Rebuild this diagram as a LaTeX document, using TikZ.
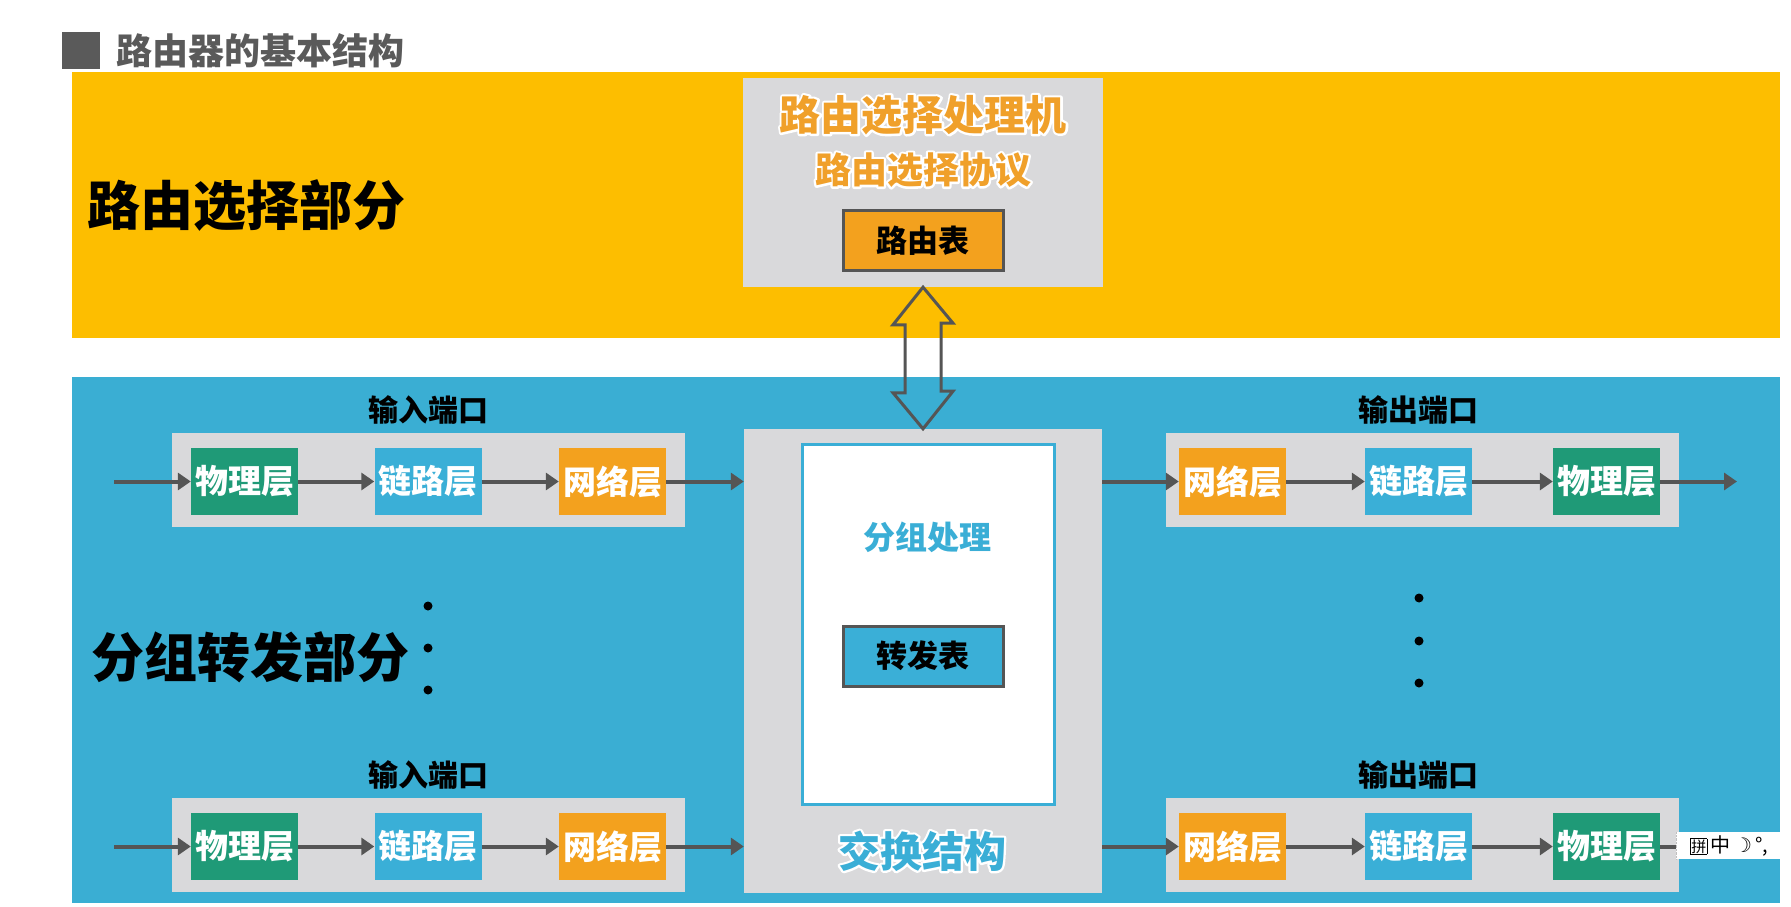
\documentclass[tikz,border=0pt]{standalone}
\usepackage{fontspec}
\setmainfont{Noto Sans CJK SC}
\newfontfamily\symfont{DejaVu Sans}
\usetikzlibrary{calc,arrows.meta}
\definecolor{ybg}{HTML}{FDBE00}
\definecolor{bbg}{HTML}{3AAED3}
\definecolor{lgray}{HTML}{D9D9DB}
\definecolor{lgreen}{HTML}{1F9A77}
\definecolor{lblue}{HTML}{3AAFD7}
\definecolor{lorange}{HTML}{F3A11E}
\definecolor{dgray}{HTML}{555555}
\definecolor{tgray}{HTML}{5A5A5A}
\definecolor{ttxt}{HTML}{F0A02A}
\definecolor{btxt}{HTML}{3AAED6}
\newcommand\glowtext[5]{%
  \node[#4,text=white] at (#2,#3) {\special{pdf:literal direct 2 Tr 4.5 w 1 j 1 1 1 RG}#5\special{pdf:literal direct 0 Tr}};
  \node[#4] (#1) at (#2,#3) {#5};}
\begin{document}
\begin{tikzpicture}[x=1pt,y=-1pt,
  layer/.style={minimum width=107pt,minimum height=67pt,inner sep=0pt,text=white,font=\fontsize{33}{33}\selectfont\bfseries},
  portbox/.style={fill=lgray,minimum width=513pt,minimum height=94pt,inner sep=0pt},
  plabel/.style={inner sep=0pt,font=\fontsize{30}{30}\selectfont\bfseries},
  biglabel/.style={inner sep=0pt,font=\fontsize{53}{53}\selectfont\bfseries},
  flow/.style={draw=dgray,line width=4pt,-{Triangle[length=13pt,width=17pt]}},
  tbl/.style={draw=dgray,line width=3pt,minimum width=160pt,minimum height=60pt,inner sep=0pt,font=\fontsize{31}{31}\selectfont\bfseries},
  dotmark/.style={fill=black}]
\useasboundingbox (0,0) rectangle (1791,907);
\fill[white] (0,0) rectangle (1791,907);
% title
\fill[tgray] (62,32) rectangle (100,69);
\node[inner sep=0pt,anchor=west,text=tgray,font=\fontsize{36}{36}\selectfont\bfseries] (title) at (116,51) {路由器的基本结构};
% bands
\fill[ybg] (72,72) rectangle (1780,338);
\fill[bbg] (72,377) rectangle (1780,903);
\node[biglabel] (rlabel) at (246,206) {路由选择部分};
\node[biglabel] (flabel) at (250,657) {分组转发部分};
% routing processor
\node[fill=lgray,minimum width=360pt,minimum height=209pt,inner sep=0pt] (rp) at (923,182.5) {};
\glowtext{rpt1}{923}{115}{inner sep=0pt,text=ttxt,font=\fontsize{41}{41}\selectfont\bfseries}{路由选择处理机}
\glowtext{rpt2}{923}{170}{inner sep=0pt,text=ttxt,font=\fontsize{36}{36}\selectfont\bfseries}{路由选择协议}
\node[tbl,fill=lorange] (rtab) at (923,240.5) {路由表};
% switch fabric
\node[fill=lgray,minimum width=358pt,minimum height=464pt,inner sep=0pt] (sw) at (923,661) {};
\node[fill=white,draw=btxt,line width=3pt,minimum width=252pt,minimum height=360pt,inner sep=0pt] (pp) at (928,624) {};
\glowtext{ppt}{927}{537}{inner sep=0pt,text=btxt,font=\fontsize{32}{32}\selectfont\bfseries}{分组处理}
\node[tbl,fill=lblue] (ftab) at (923,656) {转发表};
\glowtext{swt}{922}{851}{inner sep=0pt,text=btxt,font=\fontsize{42}{42}\selectfont\bfseries}{交换结构}
% double arrow between rp and sw
\draw[dgray,line width=3pt,line join=miter] (rp.south) -- ++(30,36) -- ++(-12,0) -- ++(0,68)
  -- ++(12,0) -- (sw.north) -- ++(-30,-36) -- ++(12,0) -- ++(0,-68) -- ++(-12,0) -- cycle;
% ports
\foreach \row/\yy in {a/481.5,b/846.5}{
  \node[portbox] (inp\row) at (428.5,\yy-1.5) {};
  \node[plabel] (inl\row) at (428,\yy-71) {输入端口};
  \node[layer,fill=lgreen] (ip\row) at (244.5,\yy) {物理层};
  \node[layer,fill=lblue] (il\row) at (428,\yy) {链路层};
  \node[layer,fill=lorange] (in\row) at (612.5,\yy) {网络层};
  \coordinate (src\row) at (114,\yy);
  \draw[flow] (src\row) -- (ip\row);
  \draw[flow] (ip\row) -- (il\row);
  \draw[flow] (il\row) -- (in\row);
  \draw[flow] (in\row.east) -- (in\row.east -| sw.west);
  \node[portbox] (outp\row) at (1422.5,\yy-1.5) {};
  \node[plabel] (outl\row) at (1418,\yy-71) {输出端口};
  \node[layer,fill=lorange] (on\row) at (1232.5,\yy) {网络层};
  \node[layer,fill=lblue] (ol\row) at (1418.5,\yy) {链路层};
  \node[layer,fill=lgreen] (op\row) at (1606.5,\yy) {物理层};
  \coordinate (dst\row) at (1737,\yy);
  \draw[flow] (on\row.west -| sw.east) -- (on\row.west);
  \draw[flow] (on\row) -- (ol\row);
  \draw[flow] (ol\row) -- (op\row);
  \draw[flow] (op\row) -- (dst\row);
}
% dots
\foreach \yy in {606,648,690}{\fill[dotmark] (428,\yy) circle (4.5pt);}
\foreach \yy in {598,641,683}{\fill[dotmark] (1419,\yy) circle (4.5pt);}
% IME overlay
\fill[white] (1676,832) rectangle (1791,859);
\draw[black!25,densely dotted] (1676,832) -- (1676,859);
\node[inner sep=0pt,anchor=west,font=\fontsize{20}{20}\selectfont] (ime) at (1690,845.5)
  {{\setlength{\fboxsep}{0.5pt}\setlength{\fboxrule}{0.6pt}\fbox{\fontsize{15}{15}\selectfont 拼}}\,中\,{\symfont ☽}\,°,};
\end{tikzpicture}
\end{document}
